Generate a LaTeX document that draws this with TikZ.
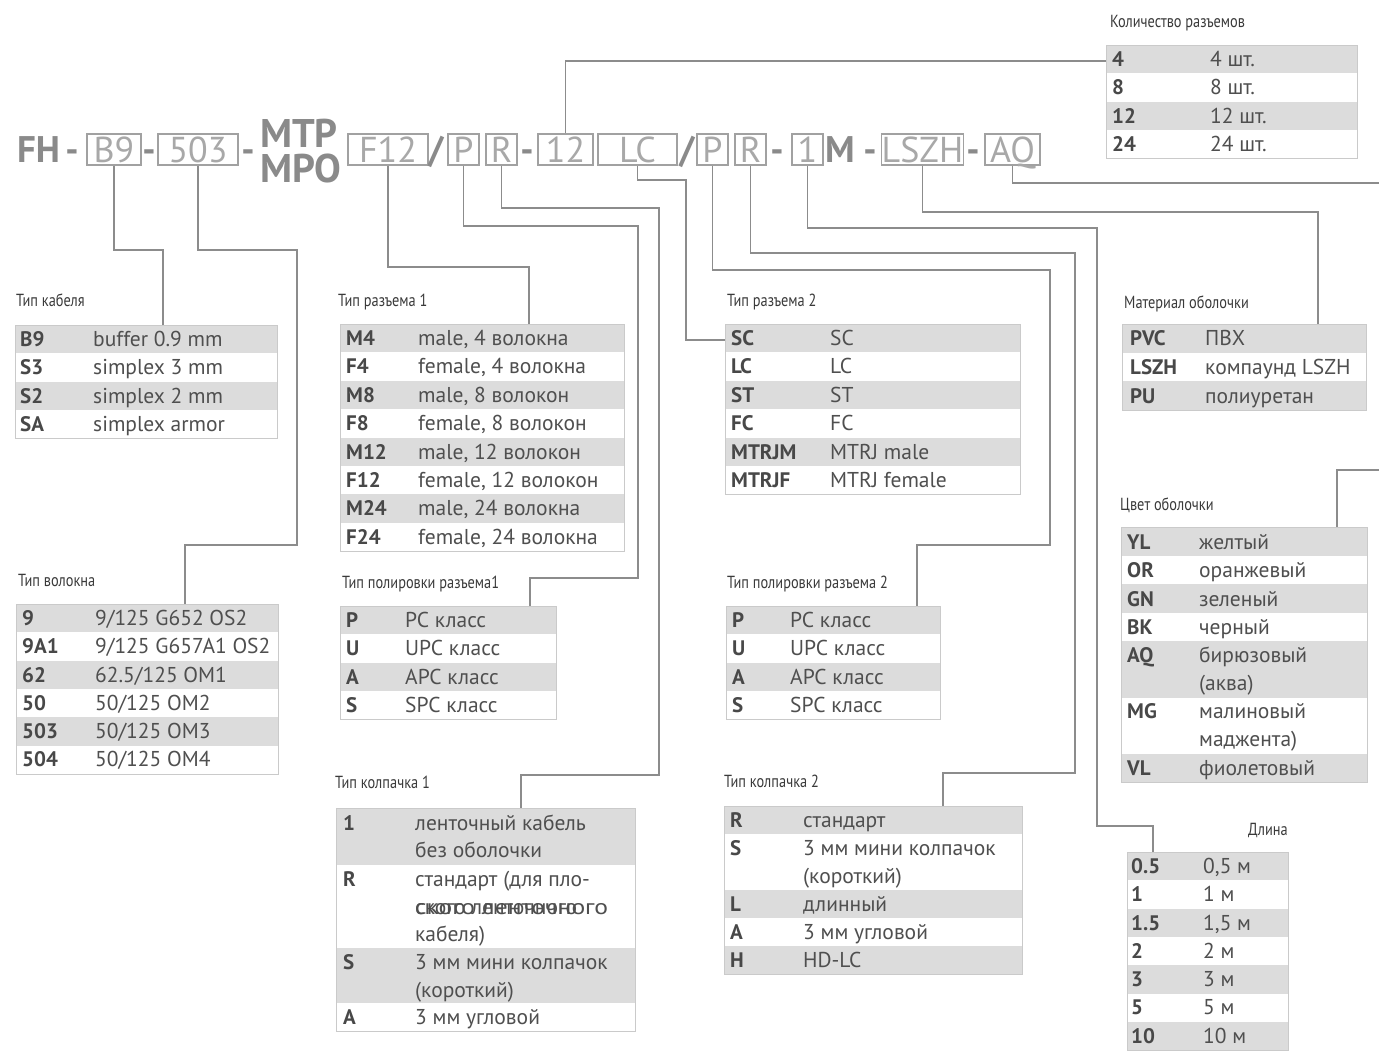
\documentclass[tikz,border=0pt]{standalone}
\usepackage{fontspec}
\usepackage{graphicx}
\setmainfont{PT Sans}
\newfontfamily\condf[FakeStretch=0.82]{PT Sans}
\usetikzlibrary{calc}
\definecolor{rowg}{HTML}{DCDCDC}
\definecolor{bord}{HTML}{CACACA}
\definecolor{txt}{HTML}{4F4F4F}
\definecolor{keyc}{HTML}{484848}
\definecolor{head}{HTML}{3A3A3A}
\definecolor{lin}{HTML}{8C8C8C}
\definecolor{codeb}{HTML}{8A8A8A}
\definecolor{codel}{HTML}{A8A8A8}
\tikzset{
 conn/.style={draw=lin, line width=1.3pt},
 keyt/.style={anchor=base west, inner sep=0pt, font=\fontsize{21}{25}\selectfont\bfseries, text=keyc},
 valt/.style={anchor=base west, inner sep=0pt, font=\fontsize{21.5}{25}\selectfont, text=txt},
 headt/.style={anchor=base west, inner sep=0pt, font=\fontsize{17.5}{20}\condf, text=head},
 tbox/.style={draw=bord, line width=1pt, anchor=north west, inner sep=0pt},
 cbox/.style={draw=codeb!80, line width=1.2pt, inner sep=0pt, text=codel, font=\fontsize{36}{40}\selectfont, text height=25pt, text depth=0pt, minimum height=31pt},
 cbold/.style={inner sep=0pt, anchor=base, text=codeb, font=\fontsize{37}{40}\selectfont\bfseries},
 cbig/.style={inner sep=0pt, anchor=north west, align=left, text=codeb, font=\fontsize{40}{35}\selectfont\bfseries},
}
% #1 name, #2 x0, #3 x1, #4 ytop, #5 rowh, #6 nrows, #7 keyx, #8 valx, #9 list
\newcommand\UTab[9]{%
  \foreach \k/\v [count=\i] in {#9}{%
    \pgfmathsetmacro\yt{#4+(\i-1)*#5}%
    \ifodd\i\relax \fill[rowg] (#2,\yt) rectangle (#3,\yt+#5);\fi
    \node[keyt] at (#7,\yt+#5*0.5+7.3) {\k};
    \node[valt] at (#8,\yt+#5*0.5+7.3) {\v};
  }%
  \node[tbox, minimum width={#3-#2}, minimum height={#6*#5}] (#1) at (#2,#4) {};
}
\begin{document}
\begin{tikzpicture}[x=1pt,y=-1pt]
\useasboundingbox (0,0) rectangle (1379,1050);
\fill[white] (0,0) rectangle (1379,1050);

% ---------- code row ----------
\node[cbold, anchor=base west] (fh) at (17,162) {FH};
\node[cbold] (d1) at (72,162) {-};
\node[cbox, minimum width=54pt] (b9) at (114,149.5) {B9};
\node[cbold] (d2) at (149,162) {-};
\node[cbox, minimum width=80pt] (f503) at (198,149.5) {503};
\node[cbold] (d3) at (248,162) {-};
\node[cbig] (mtp) at (260,119) {MTP\\[-0.5pt]MPO};
\node[cbox, minimum width=80pt] (f12) at (388,149.5) {F12};
\node[cbold] (s1) at (436,162) {/};
\node[cbox, minimum width=31pt] (p1) at (463.5,149.5) {P};
\node[cbox, minimum width=31pt] (r1) at (501.5,149.5) {R};
\node[cbold] (d4) at (527,162) {-};
\node[cbox, minimum width=55pt] (n12) at (565.5,149.5) {12};
\node[cbox, minimum width=79pt] (lc) at (637.5,149.5) {LC};
\node[cbold] (s2) at (687,162) {/};
\node[cbox, minimum width=31pt] (p2) at (712.5,149.5) {P};
\node[cbox, minimum width=31pt] (r2) at (750.5,149.5) {R};
\node[cbold] (d5) at (777,162) {-};
\node[cbox, minimum width=31pt] (o1) at (807.5,149.5) {1};
\node[cbold, anchor=base west] (mm) at (825,162) {M};
\node[cbold] (d6) at (870,162) {-};
\node[cbox, minimum width=79pt] (lszh) at (922.5,149.5) {LSZH};
\node[cbold] (d7) at (973,162) {-};
\node[cbox, minimum width=55pt] (aq) at (1012.5,149.5) {AQ};

% ---------- uniform tables ----------
\node[headt] (h1) at (16,306) {Тип кабеля};
\UTab{tkab}{15}{277}{325}{28.3}{4}{20}{93}{B9/buffer 0.9 mm, S3/simplex 3 mm, S2/simplex 2 mm, SA/simplex armor}

\node[headt] (h2) at (18,586) {Тип волокна};
\UTab{tvol}{16}{278}{604}{28.3}{6}{22}{95}{9/{9/125 G652 OS2}, 9A1/{9/125 G657A1 OS2}, 62/{62.5/125 OM1}, 50/{50/125 OM2}, 503/{50/125 OM3}, 504/{50/125 OM4}}

\node[headt] (h3) at (338,306) {Тип разъема 1};
\UTab{trz1}{340}{624}{324}{28.4}{8}{346}{418}{M4/{male, 4 волокна}, F4/{female, 4 волокна}, M8/{male, 8 волокон}, F8/{female, 8 волокон}, M12/{male, 12 волокон}, F12/{female, 12 волокон}, M24/{male, 24 волокна}, F24/{female, 24 волокна}}

\node[headt] (h4) at (342,588) {Тип полировки разъема1};
\UTab{tpol1}{340}{556}{606}{28.3}{4}{346}{405}{P/PC класс, U/UPC класс, A/APC класс, S/SPC класс}

\node[headt] (h6) at (727,306) {Тип разъема 2};
\UTab{trz2}{725}{1020}{324}{28.4}{6}{731}{830}{SC/SC, LC/LC, ST/ST, FC/FC, MTRJM/MTRJ male, MTRJF/MTRJ female}

\node[headt] (h7) at (727,588) {Тип полировки разъема 2};
\UTab{tpol2}{726}{940}{606}{28.3}{4}{732}{790}{P/PC класс, U/UPC класс, A/APC класс, S/SPC класс}

\node[headt] (h9) at (1110,27) {Количество разъемов};
\UTab{tkolv}{1106}{1357}{45}{28.3}{4}{1112}{1210}{4/4 шт., 8/8 шт., 12/12 шт., 24/24 шт.}

\node[headt] (h10) at (1124,308) {Материал оболочки};
\UTab{tmat}{1122}{1366}{324}{28.7}{3}{1130}{1205}{PVC/ПВХ, LSZH/компаунд LSZH, PU/полиуретан}

\node[headt, anchor=base east] (h12) at (1288,835) {Длина};
\UTab{tdl}{1127}{1288}{852}{28.3}{7}{1131}{1203}{0.5/{0,5 м}, 1/1 м, 1.5/{1,5 м}, 2/2 м, 3/3 м, 5/5 м, 10/10 м}

% ---------- Тип колпачка 1 ----------
\node[headt] (h5) at (335,788) {Тип колпачка 1};
\fill[rowg] (336,808) rectangle (635,865);
\fill[rowg] (336,948) rectangle (635,1003);
\node[tbox, minimum width=299, minimum height=223] (tkol1) at (336,808) {};
\node[keyt] at (343,830) {1};
\node[valt] at (415,830) {ленточный кабель};
\node[valt] at (415,857.5) {без оболочки};
\node[keyt] at (343,886.5) {R};
\node[valt] at (415,886.5) {стандарт (для пло-};
\node[valt] at (415,914) {\rlap{ского ленточного}\scalebox{1.19}[1]{ского ленточного}};
\node[valt] at (415,941.5) {кабеля)};
\node[keyt] at (343,969.5) {S};
\node[valt] at (415,969.5) {3 мм мини колпачок};
\node[valt] at (415,997) {(короткий)};
\node[keyt] at (343,1024.5) {A};
\node[valt] at (415,1024.5) {3 мм угловой};

% ---------- Тип колпачка 2 ----------
\node[headt] (h8) at (724,787) {Тип колпачка 2};
\fill[rowg] (724,806) rectangle (1022,834);
\fill[rowg] (724,890) rectangle (1022,918);
\fill[rowg] (724,946) rectangle (1022,974);
\node[tbox, minimum width=298, minimum height=168] (tkol2) at (724,806) {};
\node[keyt] at (730,827.5) {R};
\node[valt] at (803,827.5) {стандарт};
\node[keyt] at (730,855.5) {S};
\node[valt] at (803,855.5) {3 мм мини колпачок};
\node[valt] at (803,883) {(короткий)};
\node[keyt] at (730,911.5) {L};
\node[valt] at (803,911.5) {длинный};
\node[keyt] at (730,939.5) {A};
\node[valt] at (803,939.5) {3 мм угловой};
\node[keyt] at (730,967.5) {H};
\node[valt] at (803,967.5) {HD-LC};

% ---------- Цвет оболочки ----------
\node[headt] (h11) at (1120,510) {Цвет оболочки};
\fill[rowg] (1121,527) rectangle (1367,556);
\fill[rowg] (1121,584) rectangle (1367,613);
\fill[rowg] (1121,641) rectangle (1367,698);
\fill[rowg] (1121,754) rectangle (1367,782);
\node[tbox, minimum width=246, minimum height=255] (tcv) at (1121,527) {};
\node[keyt] at (1127,549) {YL};
\node[valt] at (1199,549) {желтый};
\node[keyt] at (1127,577) {OR};
\node[valt] at (1199,577) {оранжевый};
\node[keyt] at (1127,606) {GN};
\node[valt] at (1199,606) {зеленый};
\node[keyt] at (1127,634) {BK};
\node[valt] at (1199,634) {черный};
\node[keyt] at (1127,662.5) {AQ};
\node[valt] at (1199,662.5) {бирюзовый};
\node[valt] at (1199,690) {(аква)};
\node[keyt] at (1127,718.5) {MG};
\node[valt] at (1199,718.5) {малиновый};
\node[valt] at (1199,746) {маджента)};
\node[keyt] at (1127,775) {VL};
\node[valt] at (1199,775) {фиолетовый};

% ---------- connectors ----------
\coordinate (edgeA) at (1379,183);
\coordinate (edgeB) at (1379,470);
\draw[conn] (b9.south) |- (163,250) -- (163,0 |- tkab.north);
\draw[conn] (f503.south) |- (297,250) |- (185,545) -- (185,0 |- tvol.north);
\draw[conn] (f12.south) |- (529,267) -- (529,0 |- trz1.north);
\draw[conn] (p1.south) |- (638,226) |- (530,578) -- (530,0 |- tpol1.north);
\draw[conn] (r1.south) |- (659,208) |- (521,775) -- (521,0 |- tkol1.north);
\draw[conn] (n12.north) |- ($(tkolv.north west)+(0,16)$);
\draw[conn] (lc.south) |- (686,180) |- ($(trz2.north west)+(0,16)$);
\draw[conn] (p2.south) |- (1050,270) |- (917,545) -- (917,0 |- tpol2.north);
\draw[conn] (r2.south) |- (1075,253) |- (943,773) -- (943,0 |- tkol2.north);
\draw[conn] (o1.south) |- (1097,228) |- (1153,826) -- (1153,0 |- tdl.north);
\draw[conn] (lszh.south) |- (1318,212) -- (1318,0 |- tmat.north);
\draw[conn] (aq.south) |- (edgeA);
\draw[conn] (edgeB) -- (1337,470) -- (1337,0 |- tcv.north);
\end{tikzpicture}
\end{document}
